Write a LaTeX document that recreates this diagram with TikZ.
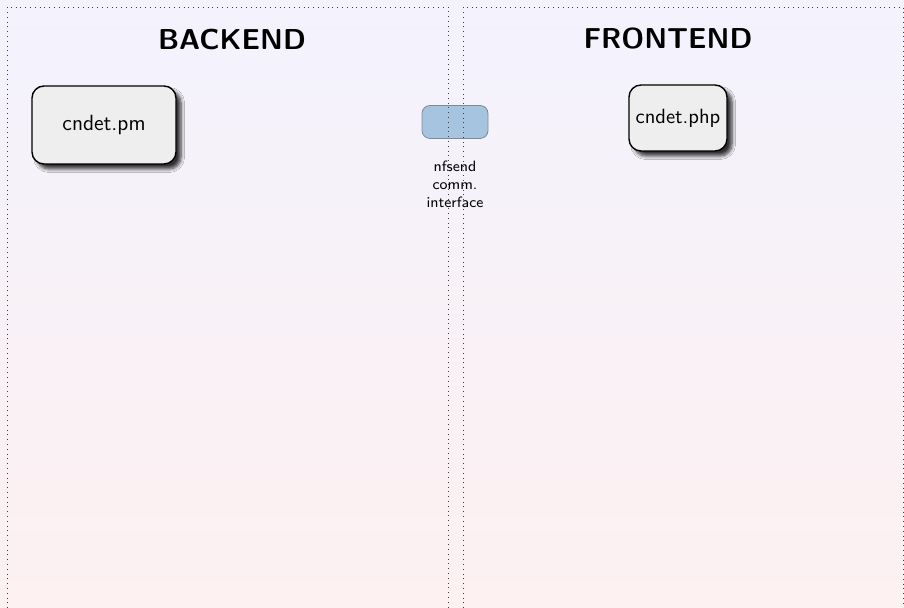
\documentclass[tikz,border=0pt]{standalone}
\usetikzlibrary{shadows.blur,positioning}
\renewcommand{\familydefault}{\sfdefault}

\definecolor{bgtop}{HTML}{F3F2FD}
\definecolor{bgbot}{HTML}{FDF1F1}
\definecolor{modfill}{HTML}{EEEEEE}
\definecolor{ifill}{HTML}{A6C4DF}
\definecolor{iline}{HTML}{7F8A96}

\begin{document}
\begin{tikzpicture}[x=0.5pt,y=-0.5pt]
\useasboundingbox (0,0) rectangle (904,608);
\shade[top color=bgtop,bottom color=bgbot] (0,0) rectangle (904,608);

\node[font=\Large\bfseries] (BE) at (232,39) {BACKEND};
\node[font=\Large\bfseries] (FE) at (668,39) {FRONTEND};

\begin{scope}[every node/.style={draw,line width=0.7pt,rounded corners=6pt,fill=modfill,
              blur shadow={shadow xshift=2.5pt,shadow yshift=-2.5pt,shadow opacity=80,shadow blur steps=6}}]
    \node[font=\fontsize{11}{13}\selectfont,minimum width=72pt,minimum height=39pt] (PM) at (104,125) {cndet.pm};
    \node[font=\fontsize{10.3}{12}\selectfont,minimum width=49pt,minimum height=33pt,inner sep=1pt] (PHP) at (678,118) {cndet.php};
\end{scope}

\node[draw=iline,fill=ifill,rounded corners=4pt,minimum width=33pt,minimum height=16.5pt] (NF) at (455,122) {};
\node[font=\fontsize{7.5}{9}\selectfont,align=center,inner sep=0pt,below=11pt of NF] (NFL) {nfsend\\comm.\\interface};

% frames on top
\draw[dotted,black!75] (7,608) -- (7,7) -- (448,7) -- (448,608);
\draw[dotted,black!75] (463,608) -- (463,7) -- (903,7) -- (903,608);
\end{tikzpicture}
\end{document}
